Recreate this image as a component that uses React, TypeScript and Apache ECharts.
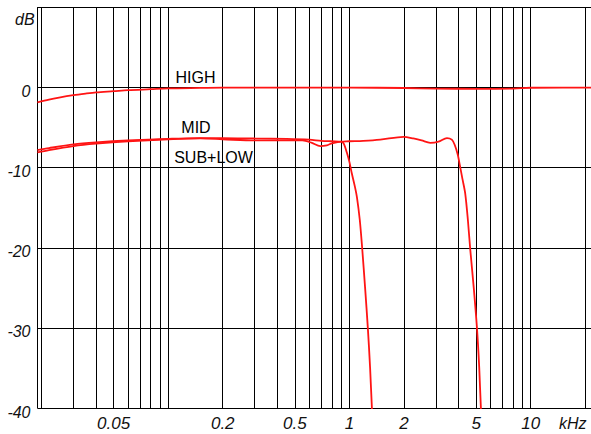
import React, { useEffect, useRef } from "react";
import * as echarts from "echarts";

// Frequencies in kHz, levels in dB
const highFreq = [0.019, 0.022, 0.025, 0.03, 0.035, 0.04, 0.05, 0.06, 0.08, 0.1, 0.15, 0.2, 0.5, 1, 2, 3, 5, 8, 10, 15, 21.5];
const highDb = [-1.85, -1.5, -1.25, -0.95, -0.75, -0.6, -0.45, -0.32, -0.2, -0.1, -0.04, 0, 0, 0, -0.05, -0.12, -0.15, -0.12, -0.02, 0, 0];

const midFreq = [0.019, 0.022, 0.03, 0.04, 0.06, 0.1, 0.15, 0.2, 0.3, 0.45, 0.6, 0.7, 0.8, 0.9, 1.0, 1.19, 1.48, 1.99, 2.25, 2.5, 2.79, 3.1, 3.45, 3.67, 3.8, 3.95, 4.08, 4.2, 4.35, 4.5, 4.63, 4.85, 5.05, 5.2, 5.31, 5.36];
const midDb = [-7.8, -7.55, -7.1, -6.85, -6.6, -6.4, -6.3, -6.3, -6.35, -6.4, -6.5, -6.65, -6.7, -6.75, -6.7, -6.65, -6.5, -6.15, -6.35, -6.6, -6.9, -6.75, -6.3, -6.5, -7.1, -8.3, -9.9, -11.4, -13.2, -16.5, -20, -25, -30, -35, -40, -41];

const subLowFreq = [0.019, 0.022, 0.03, 0.04, 0.06, 0.1, 0.15, 0.2, 0.3, 0.45, 0.55, 0.62, 0.69, 0.75, 0.8, 0.86, 0.9, 0.93, 0.97, 1.0, 1.03, 1.07, 1.1, 1.14, 1.175, 1.22, 1.263, 1.3, 1.33, 1.34];
const subLowDb = [-8.1, -7.8, -7.3, -7.0, -6.7, -6.45, -6.35, -6.45, -6.6, -6.6, -6.6, -6.9, -7.3, -7.2, -6.95, -6.8, -6.75, -7.0, -8.2, -9.3, -10.7, -12.3, -13.7, -16.5, -20, -25, -30, -35, -40, -41];

const gridFreqs = [0.02, 0.03, 0.04, 0.05, 0.06, 0.07, 0.08, 0.09, 0.1, 0.2, 0.3, 0.4, 0.5, 0.6, 0.7, 0.8, 0.9, 1, 2, 3, 4, 5, 6, 7, 8, 9, 10, 20];
const xTickLabels = [0.05, 0.2, 0.5, 1, 2, 5, 10];
const curveNames = ["HIGH", "MID", "SUB+LOW"];

const X_MIN = 0.01902;
const X_MAX = 21.5;

const pairs = (xs: number[], ys: number[]) => xs.map((x, i) => [x, ys[i]]);

export default function App() {
  const ref = useRef<HTMLDivElement>(null);
  useEffect(() => {
    if (!ref.current) return;
    const chart = echarts.init(ref.current, null, { renderer: "svg" });
    const red = "#ff1414";
    const lineSeries = (name: string, data: number[][]) => ({
      name,
      type: "line",
      data,
      showSymbol: false,
      smooth: 0.3,
      clip: true,
      lineStyle: { color: red, width: 1.8 },
      itemStyle: { color: red },
      z: 5,
    });
    chart.setOption({
      animation: false,
      backgroundColor: "#ffffff",
      grid: { left: 37.5, right: 0, top: 7.5, bottom: 26 },
      xAxis: {
        type: "log",
        logBase: 10,
        min: X_MIN,
        max: X_MAX,
        axisLine: { show: true, lineStyle: { color: "#000", width: 1 } },
        axisTick: { show: false },
        splitLine: { show: false },
        axisLabel: {
          customValues: xTickLabels,
          formatter: (v: number) => String(v),
          fontFamily: "Liberation Sans",
          fontStyle: "italic",
          fontSize: 17,
          color: "#111",
          margin: 7,
        },
      },
      yAxis: {
        type: "value",
        min: -40,
        max: 10,
        interval: 10,
        axisLine: { show: true, lineStyle: { color: "#000", width: 1 } },
        axisTick: { show: false },
        splitLine: { show: true, lineStyle: { color: "#000", width: 1 } },
        axisLabel: {
          formatter: (v: number) => (v === 10 ? "" : String(v)),
          fontFamily: "Liberation Sans",
          fontStyle: "italic",
          fontSize: 16,
          color: "#111",
          margin: 7,
          verticalAlign: "top",
          lineHeight: 16,
          padding: [-4, 0, 0, 0],
        },
      },
      series: [
        {
          name: "grid",
          type: "line",
          data: [],
          silent: true,
          markLine: {
            silent: true,
            symbol: ["none", "none"],
            label: { show: false },
            lineStyle: { color: "#000", width: 1, type: "solid" },
            emphasis: { disabled: true },
            data: gridFreqs.map((f) => ({ xAxis: f })),
          },
          z: 1,
        },
        lineSeries(curveNames[0], pairs(highFreq, highDb)),
        lineSeries(curveNames[1], pairs(midFreq, midDb)),
        lineSeries(curveNames[2], pairs(subLowFreq, subLowDb)),
      ],
      graphic: [
        {
          type: "text",
          left: 15,
          top: 11,
          style: { text: "dB", font: "italic 16px 'Liberation Sans'", fill: "#111" },
        },
        {
          type: "text",
          left: 559,
          top: 415,
          style: { text: "kHz", font: "italic 16px 'Liberation Sans'", fill: "#111" },
        },
        {
          type: "text",
          x: 195.5,
          y: 77,
          style: { text: curveNames[0], font: "16px 'Liberation Sans'", fill: "#000", align: "center", verticalAlign: "middle" },
        },
        {
          type: "text",
          x: 196,
          y: 127.5,
          style: { text: curveNames[1], font: "16px 'Liberation Sans'", fill: "#000", align: "center", verticalAlign: "middle" },
        },
        {
          type: "text",
          x: 213.5,
          y: 157,
          style: { text: curveNames[2], font: "16px 'Liberation Sans'", fill: "#000", align: "center", verticalAlign: "middle" },
        },
      ],
    });
    return () => chart.dispose();
  }, []);
  return (
    <div
      ref={ref}
      style={{ position: "fixed", left: 0, top: 0, width: 591, height: 434, background: "#fff" }}
    />
  );
}
